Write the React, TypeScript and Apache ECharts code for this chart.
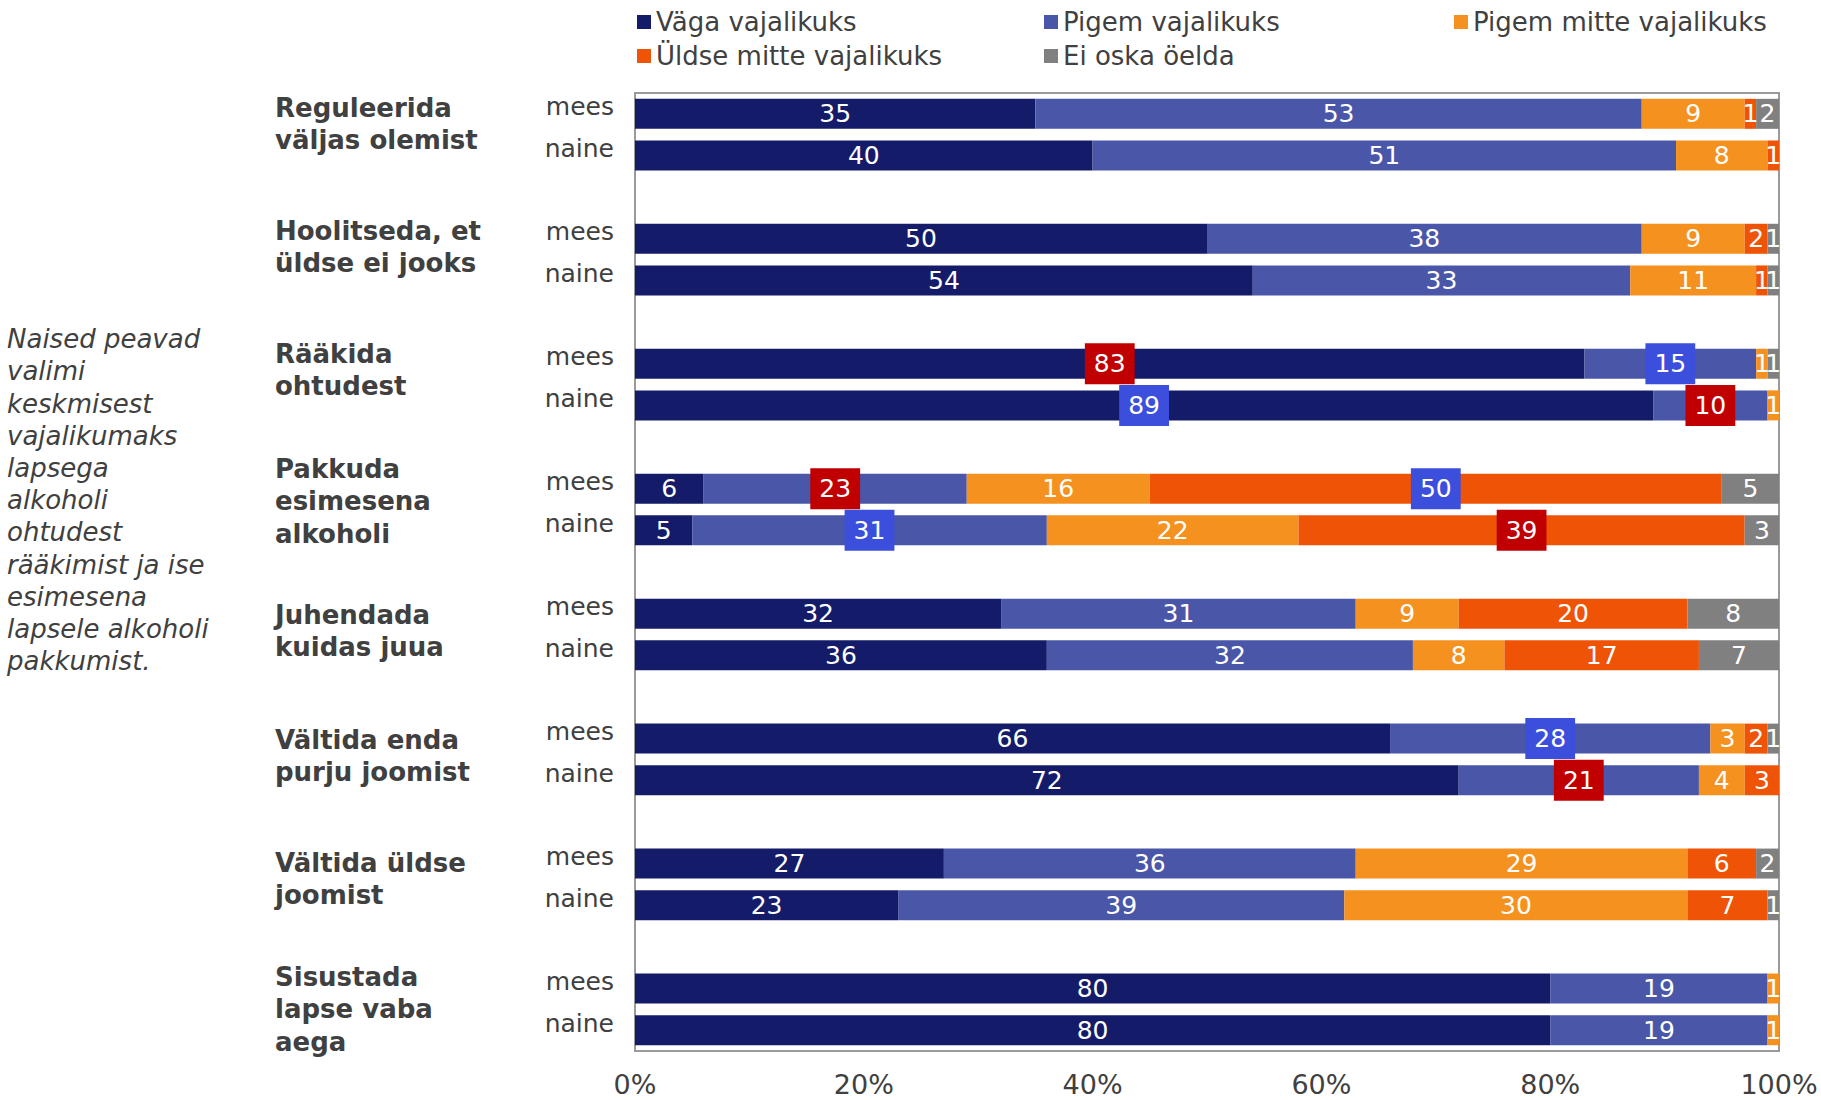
import React, { useEffect, useRef } from "react";
import * as echarts from "echarts";

const groups = [
  "Reguleerida\nväljas olemist",
  "Hoolitseda, et\nüldse ei jooks",
  "Rääkida\nohtudest",
  "Pakkuda\nesimesena\nalkoholi",
  "Juhendada\nkuidas juua",
  "Vältida enda\npurju joomist",
  "Vältida üldse\njoomist",
  "Sisustada\nlapse vaba\naega",
];
const sexes = ["mees", "naine"];
const seriesNames = [
  "Väga vajalikuks",
  "Pigem vajalikuks",
  "Pigem mitte vajalikuks",
  "Üldse mitte vajalikuks",
  "Ei oska öelda",
];
const colors = ["#141C6A", "#4A57A8", "#F5921F", "#EE5306", "#808080"];

const vagaMees = [35, 50, 83, 6, 32, 66, 27, 80];
const vagaNaine = [40, 54, 89, 5, 36, 72, 23, 80];
const pigemMees = [53, 38, 15, 23, 31, 28, 36, 19];
const pigemNaine = [51, 33, 10, 31, 32, 21, 39, 19];
const mitteMees = [9, 9, 1, 16, 9, 3, 29, 1];
const mitteNaine = [8, 11, 1, 22, 8, 4, 30, 1];
const yldseMees = [1, 2, 0, 50, 20, 2, 6, 0];
const yldseNaine = [1, 1, 0, 39, 17, 3, 7, 0];
const eiMees = [2, 1, 1, 5, 8, 1, 2, 0];
const eiNaine = [0, 1, 0, 3, 7, 0, 1, 0];

const xTicks = [0, 20, 40, 60, 80, 100];

// highlighted labels: [seriesIndex, groupIndex, sexIndex]
const redLabels = [
  [0, 2, 0],
  [1, 2, 1],
  [1, 3, 0],
  [3, 3, 1],
  [1, 5, 1],
];
const blueLabels = [
  [1, 2, 0],
  [0, 2, 1],
  [3, 3, 0],
  [1, 3, 1],
  [1, 5, 0],
];

const noteText =
  "Naised peavad\nvalimi\nkeskmisest\nvajalikumaks\nlapsega\nalkoholi\nohtudest\nrääkimist ja ise\nesimesena\nlapsele alkoholi\npakkumist.";

const FONT = "'DejaVu Sans', Verdana, sans-serif";

export default function App() {
  const ref = useRef<HTMLDivElement>(null);

  useEffect(() => {
    if (!ref.current) return;
    const chart = echarts.init(ref.current, undefined, { renderer: "svg" });

    const valuesBySeries = [
      [vagaMees, vagaNaine],
      [pigemMees, pigemNaine],
      [mitteMees, mitteNaine],
      [yldseMees, yldseNaine],
      [eiMees, eiNaine],
    ];

    const cats: string[] = [];
    groups.forEach((_, g) => {
      sexes.forEach((s) => cats.push(`${g}|${s}`));
      if (g < groups.length - 1) cats.push(`${g}|`);
    });

    const findHL = (list: number[][], si: number, g: number, x: number) =>
      list.some((h) => h[0] === si && h[1] === g && h[2] === x);

    const series = seriesNames.map((name, si) => {
      const data: any[] = [];
      groups.forEach((_, g) => {
        sexes.forEach((_s, x) => {
          const v = valuesBySeries[si][x][g];
          if (!v) {
            data.push("-");
            return;
          }
          const red = findHL(redLabels, si, g, x);
          const blue = findHL(blueLabels, si, g, x);
          if (red || blue) {
            data.push({
              value: v,
              label: {
                backgroundColor: red ? "#C00000" : "#3C4FDC",
                padding: [8, 9],
              },
            });
          } else data.push(v);
        });
        if (g < groups.length - 1) data.push("-");
      });
      return {
        name,
        type: "bar",
        stack: "total",
        barWidth: 30,
        itemStyle: { color: colors[si] },
        label: {
          show: true,
          position: "inside",
          color: "#ffffff",
          fontFamily: FONT,
          fontSize: 25,
          lineHeight: 25,
        },
        data,
      };
    });

    const legendLeft = [632, 1039, 1449];
    const legendTop = [2, 36];

    chart.setOption({
      animation: false,
      textStyle: { fontFamily: FONT },
      legend: seriesNames.map((n, i) => ({
        data: [n],
        left: legendLeft[i % 3],
        top: legendTop[Math.floor(i / 3)],
        icon: "rect",
        itemWidth: 14,
        itemHeight: 14,
        itemGap: 4,
        selectedMode: false,
        textStyle: {
          fontFamily: FONT,
          fontSize: 26,
          lineHeight: 30,
          color: "#404040",
        },
      })),
      grid: {
        left: 635,
        right: 42,
        top: 93,
        bottom: 49,
        show: true,
        borderColor: "#9a9a9a",
        borderWidth: 2,
        backgroundColor: "transparent",
      },
      xAxis: {
        type: "value",
        min: xTicks[0],
        max: xTicks[xTicks.length - 1],
        interval: xTicks[1] - xTicks[0],
        axisLine: { show: false },
        axisTick: { show: false },
        splitLine: { show: false },
        axisLabel: {
          formatter: "{value}%",
          fontFamily: FONT,
          fontSize: 27,
          color: "#404040",
          margin: 20,
        },
      },
      yAxis: {
        type: "category",
        inverse: true,
        data: cats,
        axisLine: { show: false },
        axisTick: { show: false },
        splitLine: { show: false },
        axisLabel: {
          formatter: (v: string) => v.split("|")[1],
          fontFamily: FONT,
          fontSize: 25,
          color: "#404040",
          margin: 21,
          verticalAlign: "bottom",
          lineHeight: 14,
        },
      },
      series,
    });

    const labelShift = [-6, -8, -10, -20, 1, 1, -1, -12];
    const lh = 32.5;
    const graphics: any[] = groups.map((txt, g) => {
      const y = chart.convertToPixel({ yAxisIndex: 0 }, `${g}|mees`) as number;
      return {
        type: "text",
        x: 275,
        y: y + labelShift[g] - lh / 2,
        style: {
          text: txt,
          font: `bold 26px ${FONT}`,
          lineHeight: lh,
          fill: "#404040",
          verticalAlign: "top",
          align: "left",
        },
      };
    });
    graphics.push({
      type: "text",
      x: 7,
      y: 339 - 16,
      style: {
        text: noteText,
        font: `italic 26px ${FONT}`,
        lineHeight: 32.2,
        fill: "#404040",
        verticalAlign: "top",
        align: "left",
      },
    });
    chart.setOption({ graphic: graphics });

    return () => chart.dispose();
  }, []);

  return (
    <div
      ref={ref}
      style={{ position: "fixed", left: 0, top: 0, width: 1821, height: 1100, background: "#fff" }}
    />
  );
}
